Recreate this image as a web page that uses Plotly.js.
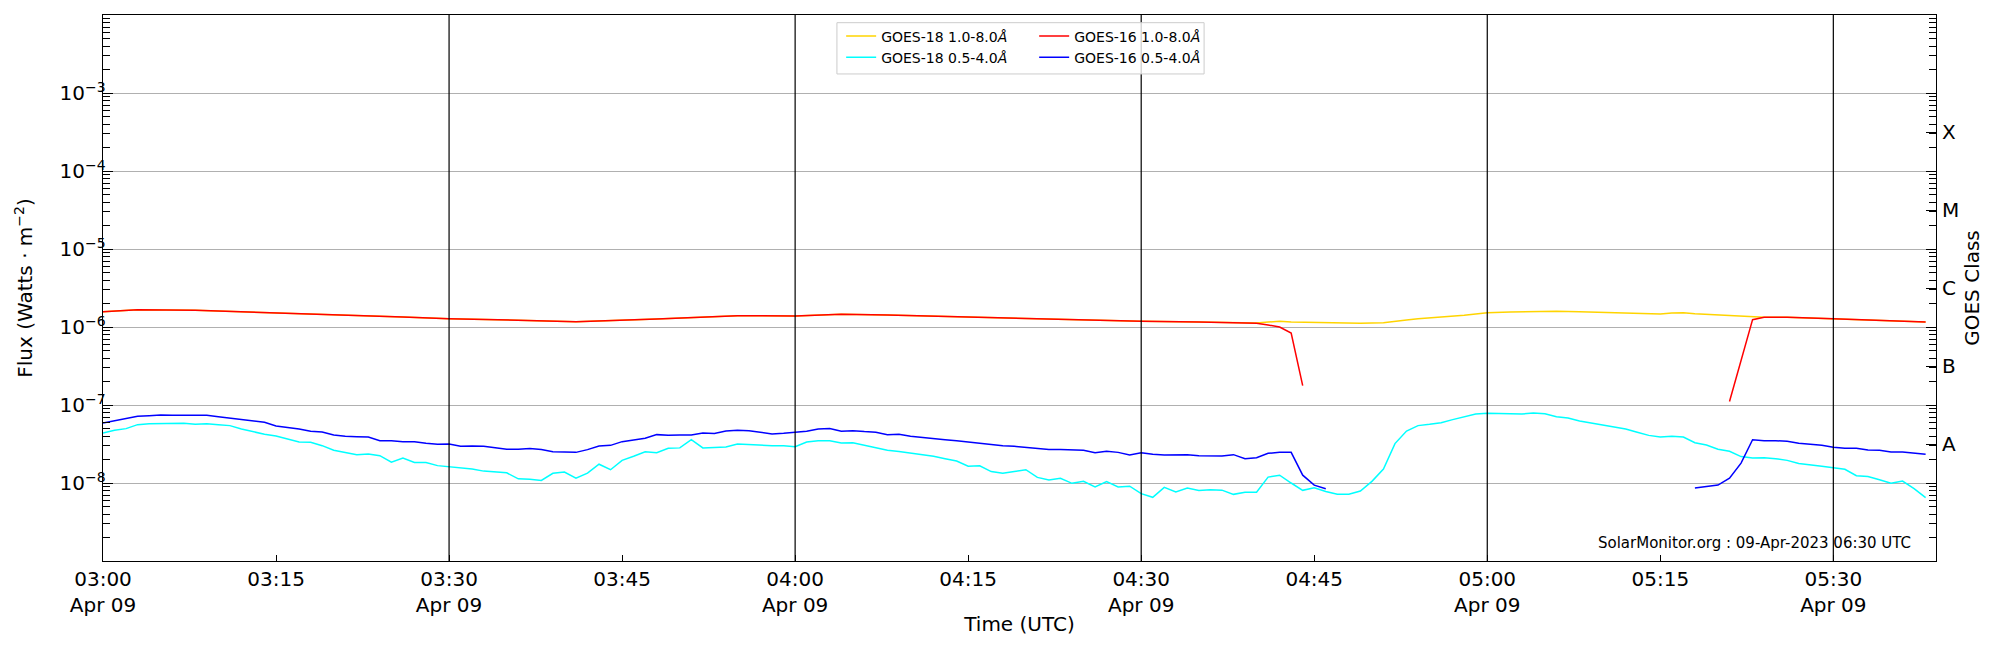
<!DOCTYPE html>
<html><head><meta charset="utf-8">
<script src="https://cdn.plot.ly/plotly-3.0.1.min.js"></script>
<style>body{margin:0;background:#fff}</style>
</head><body>
<div id="chart" style="width:2000px;height:650px"></div>
<script>
// ---------- DATA ----------
const START = {y:2023, mo:4, d:9, h:3, m:0};
const SHORT_UNIT = 1e-8;   // 0.5-4.0 Å values are in units of 1e-8 W/m^2
const LONG_UNIT = 1e-6;    // 1.0-8.0 Å values are in units of 1e-6 W/m^2

// 1-minute samples, 03:00 .. 05:38
const goes18Short = [
 4.38,4.74,4.98,5.60,5.76,5.82,5.76,5.82,5.65,5.76,
 5.60,5.44,4.93,4.56,4.21,4.01,3.66,3.36,3.33,3.01,
 2.63,2.47,2.31,2.36,2.24,1.85,2.09,1.83,1.83,1.67,
 1.61,1.55,1.51,1.42,1.40,1.35,1.13,1.12,1.08,1.33,
 1.38,1.15,1.34,1.74,1.48,1.95,2.20,2.52,2.44,2.79,
 2.82,3.59,2.82,2.84,2.90,3.16,3.10,3.10,3.01,3.01,
 2.92,3.36,3.49,3.49,3.26,3.29,3.07,2.84,2.63,2.53,
 2.42,2.30,2.20,2.05,1.91,1.64,1.66,1.40,1.33,1.40,
 1.48,1.18,1.09,1.15,0.99,1.05,0.89,1.04,0.89,0.91,
 0.73,0.655,0.88,0.77,0.86,0.80,0.82,0.81,0.715,0.76,
 0.76,1.19,1.26,1.00,0.805,0.87,0.78,0.72,0.72,0.79,
 1.05,1.51,3.20,4.64,5.44,5.65,5.94,6.49,7.09,7.66,
 7.82,7.74,7.66,7.66,7.90,7.74,7.09,6.82,6.24,5.88,
 5.54,5.22,4.93,4.47,4.08,3.89,3.97,3.89,3.29,3.07,
 2.71,2.55,2.18,2.09,2.11,2.05,1.95,1.78,1.72,1.64,
 1.57,1.50,1.24,1.21,1.10,0.99,1.06,0.846,0.65
];
const goes16Short = [
 5.88,6.30,6.63,7.16,7.30,7.45,7.38,7.38,7.38,7.38,
 7.09,6.82,6.49,6.18,6.00,5.38,5.17,4.93,4.60,4.51,
 4.13,3.97,3.93,3.89,3.49,3.49,3.39,3.39,3.23,3.13,
 3.16,2.95,2.98,2.95,2.84,2.71,2.71,2.76,2.68,2.52,
 2.49,2.47,2.68,2.98,3.04,3.39,3.55,3.74,4.17,4.08,
 4.13,4.13,4.38,4.30,4.64,4.74,4.69,4.51,4.26,4.34,
 4.47,4.60,4.93,4.98,4.60,4.69,4.56,4.47,4.17,4.21,
 3.97,3.82,3.70,3.59,3.49,3.36,3.23,3.10,3.01,2.95,
 2.87,2.76,2.68,2.68,2.65,2.63,2.45,2.55,2.47,2.29,
 2.45,2.33,2.29,2.31,2.31,2.24,2.22,2.22,2.31,2.05,
 2.11,2.40,2.47,2.47,1.26,0.94,0.846,null,null,null,
 null,null,null,null,null,null,null,null,null,null,
 null,null,null,null,null,null,null,null,null,null,
 null,null,null,null,null,null,null,null,0.86,0.90,
 0.94,1.15,1.80,3.59,3.49,3.49,3.43,3.23,3.16,3.04,
 2.87,2.79,2.79,2.65,2.63,2.49,2.49,2.42,2.33
];
// sparse samples (minutes after 03:00)
const goes18LongMin = [0,3,8,14,20,26,30,34,41,48,55,60,64,68,75,80,85,90,95,100,
 101,102,103,105,107,109,111,112,113,114,115,116,117,118,119,120,122,124,126,128,
 130,132,134,135,136,137,138,139,140,141,142,143,144,146,150,155,158];
const goes18Long = [1.573,1.668,1.636,1.542,1.425,1.343,1.279,1.242,1.170,1.266,
 1.397,1.383,1.453,1.425,1.343,1.291,1.217,1.182,1.159,1.125,
 1.159,1.182,1.159,1.137,1.114,1.114,1.137,1.170,1.229,1.279,
 1.304,1.330,1.356,1.411,1.468,1.527,1.557,1.588,1.588,1.573,
 1.542,1.527,1.482,1.468,1.512,1.527,1.482,1.453,1.439,1.411,
 1.383,1.356,1.330,1.330,1.279,1.217,1.159];
const goes16LongMin = [0,3,8,14,20,26,30,34,41,48,55,60,64,68,75,80,85,90,95,100,
 101,102,103,104,120,141,143,144,146,150,155,158];
const goes16Long = [1.573,1.668,1.636,1.542,1.425,1.343,1.279,1.242,1.170,1.266,
 1.397,1.383,1.453,1.425,1.343,1.291,1.217,1.182,1.159,1.114,
 1.061,1.0,0.838,0.177,null,0.111,1.242,1.330,1.330,1.279,1.217,1.159];

const tickMinutes = [0,15,30,45,60,75,90,105,120,135,150];
const tickLabels = ['03:00<br>Apr 09','03:15','03:30<br>Apr 09','03:45','04:00<br>Apr 09','04:15',
  '04:30<br>Apr 09','04:45','05:00<br>Apr 09','05:15','05:30<br>Apr 09'];
const halfHourLines = [30,60,90,120,150];
const yExponents = [-3,-4,-5,-6,-7,-8];
const classLabels = ['X','M','C','B','A'];
const classExponents = [-3.5,-4.5,-5.5,-6.5,-7.5];
const xEndSeconds = 158*60 + 54;

// ---------- HELPERS ----------
function pad(n){return (n<10?'0':'')+n;}
function tStr(totalSec){
  const s = START.h*3600 + START.m*60 + totalSec;
  const h = Math.floor(s/3600), m = Math.floor((s%3600)/60), sec = s%60;
  return START.y+'-'+pad(START.mo)+'-'+pad(START.d)+' '+pad(h)+':'+pad(m)+':'+pad(sec);
}
const minT = m => tStr(m*60);
const scale = (arr,u) => arr.map(v => v===null ? null : v*u);

const minuteAxis = goes18Short.map((_,i)=>minT(i));
const minorVals = [];
for (let k=-9;k<=-3;k++) for (let d=2; d<=9; d++) minorVals.push(d*Math.pow(10,k));

const lw = 1.5;
const traces = [
  {x: goes18LongMin.map(minT), y: scale(goes18Long,LONG_UNIT), name:'GOES-18 1.0-8.0<i>Å</i>',
   mode:'lines', line:{color:'#FFD400', width:lw}, connectgaps:false, legend:'legend', legendgroup:'a'},
  {x: goes16LongMin.map(minT), y: scale(goes16Long,LONG_UNIT), name:'GOES-16 1.0-8.0<i>Å</i>',
   mode:'lines', line:{color:'#FF0000', width:lw}, connectgaps:false, legend:'legend2', legendgroup:'c'},
  {x: minuteAxis, y: scale(goes18Short,SHORT_UNIT), name:'GOES-18 0.5-4.0<i>Å</i>',
   mode:'lines', line:{color:'#00FFFF', width:lw}, connectgaps:false, legend:'legend', legendgroup:'b'},
  {x: minuteAxis, y: scale(goes16Short,SHORT_UNIT), name:'GOES-16 0.5-4.0<i>Å</i>',
   mode:'lines', line:{color:'#0000FF', width:lw}, connectgaps:false, legend:'legend2', legendgroup:'d'},
  {x: [minT(0)], y:[LONG_UNIT], yaxis:'y2', mode:'lines', showlegend:false, hoverinfo:'skip',
   line:{color:'rgba(0,0,0,0)'}}
];

const F = 'DejaVu Sans, Verdana, sans-serif';
const legendCommon = {orientation:'v', yanchor:'top', xanchor:'left',
    bgcolor:'rgba(0,0,0,0)', borderwidth:0, traceorder:'normal',
    font:{family:F, size:14, color:'#000'}, tracegroupgap:6, itemwidth:30};
const layout = {
  width:2000, height:650,
  margin:{l:103, r:64, t:15, b:89, pad:0},
  paper_bgcolor:'#fff', plot_bgcolor:'#fff',
  font:{family:F, color:'#000', size:20},
  showlegend:true,
  legend: Object.assign({x:0.4027, y:0.990}, legendCommon),
  legend2: Object.assign({x:0.5080, y:0.990}, legendCommon),
  xaxis:{type:'date', range:[minT(0), tStr(xEndSeconds)],
    tickmode:'array', tickvals: tickMinutes.map(minT), ticktext: tickLabels,
    ticks:'inside', ticklen:6, tickcolor:'#000', tickwidth:1,
    showgrid:false, zeroline:false, showline:true, mirror:true, linecolor:'#000', linewidth:1.3,
    tickfont:{family:F, size:20}, title:{text:'Time (UTC)', font:{family:F, size:20}}},
  yaxis:{type:'log', range:[-9,-2],
    tickmode:'array', tickvals: yExponents.map(e=>Math.pow(10,e)),
    ticktext: yExponents.map(e=>'10<sup>−'+Math.abs(e)+'</sup>'),
    ticks:'inside', ticklen:10, tickcolor:'#000', tickwidth:1, ticklabelstandoff:-8,
    minor:{tickmode:'array', tickvals:minorVals, ticks:'inside', ticklen:7, tickcolor:'#000', showgrid:false},
    showgrid:true, gridcolor:'#b0b0b0', gridwidth:1, zeroline:false,
    showline:true, mirror:'ticks', linecolor:'#000', linewidth:1.3,
    tickfont:{family:F, size:20}, automargin:true,
    title:{text:'Flux (Watts · m<sup>−2</sup>)', font:{family:F, size:20}, standoff:21}},
  yaxis2:{type:'log', range:[-9,-2], overlaying:'y', side:'right',
    tickmode:'array', tickvals: classExponents.map(e=>Math.pow(10,e)), ticktext: classLabels,
    ticks:'inside', ticklen:10, tickcolor:'#000', ticklabelstandoff:5,
    minor:{tickmode:'array', tickvals:minorVals, ticks:'inside', ticklen:7, tickcolor:'#000', showgrid:false},
    showgrid:false, zeroline:false, showline:false,
    tickfont:{family:F, size:20}, automargin:true,
    title:{text:'GOES Class', font:{family:F, size:20}, standoff:6}},
  shapes: halfHourLines.map(m=>({type:'line', xref:'x', yref:'paper', x0:minT(m), x1:minT(m), y0:0, y1:1,
    line:{color:'#000', width:1.2}, layer:'above'})).concat([
    {type:'rect', xref:'paper', yref:'paper', x0:0.4004, x1:0.6007, y0:0.892, y1:0.9859,
     fillcolor:'rgba(255,255,255,0.8)', line:{color:'#cccccc', width:1}, layer:'above'}]),
  annotations:[{text:'SolarMonitor.org : 09-Apr-2023 06:30 UTC', xref:'paper', yref:'paper',
    x:0.9874, xanchor:'right', y:0.0335, yanchor:'middle', showarrow:false,
    font:{family:F, size:15, color:'#000'}}]
};
Plotly.newPlot('chart', traces, layout, {displayModeBar:false, staticPlot:true});
</script>
</body></html>
